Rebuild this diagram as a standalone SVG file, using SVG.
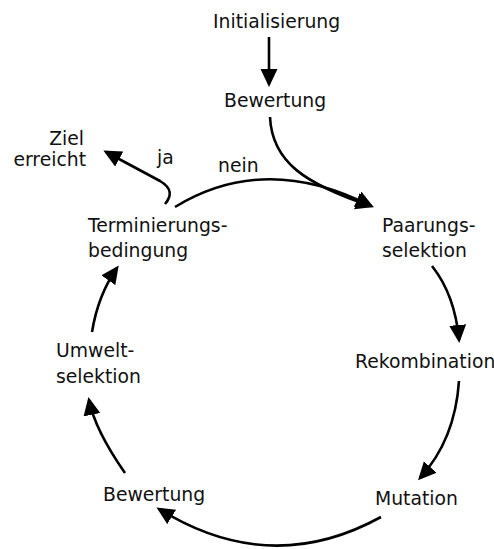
<svg xmlns="http://www.w3.org/2000/svg" width="494" height="549" viewBox="0 0 494 549">
<style>
text{font-family:"DejaVu Sans","Liberation Sans",sans-serif;font-size:18.8px;fill:#111}
.c{fill:none;stroke:#000;stroke-width:2.6}
</style>
<defs>
<marker id="ah" markerUnits="userSpaceOnUse" markerWidth="20" markerHeight="18" refX="15" refY="8.5" orient="auto">
<path d="M0,0 L18,8.5 L0,17 z" fill="#000"/>
</marker>
</defs>
<rect width="494" height="549" fill="#fff"/>
<g id="connectors">
<path class="c" d="M269,37 L269,84" marker-end="url(#ah)"/>
<path class="c" d="M270,117 C272,162 305,184 371,206" marker-end="url(#ah)"/>
<path class="c" d="M175,207 Q265,152 371,206" marker-end="url(#ah)"/>
<path class="c" d="M165,204 C172,196 172,188 160,181 L106,152" marker-end="url(#ah)"/>
<path class="c" d="M432,266 Q455,295 459,340" marker-end="url(#ah)"/>
<path class="c" d="M459,381 Q455,440 420,478" marker-end="url(#ah)"/>
<path class="c" d="M381,517 Q270,578 159,509" marker-end="url(#ah)"/>
<path class="c" d="M125,473 Q95,430 89,400" marker-end="url(#ah)"/>
<path class="c" d="M92,332 Q98,295 117,268" marker-end="url(#ah)"/>
<text x="157" y="164">ja</text>
<text x="218" y="172">nein</text>
</g>
<g id="init"><text x="213" y="28">Initialisierung</text></g>
<g id="bewertung1"><text x="224" y="107">Bewertung</text></g>
<g id="ziel"><text x="84" y="145" text-anchor="end">Ziel</text><text x="86" y="166" text-anchor="end">erreicht</text></g>
<g id="terminierung"><text x="88" y="232">Terminierungs-</text><text x="88" y="257">bedingung</text></g>
<g id="paarung"><text x="382" y="232">Paarungs-</text><text x="382" y="257">selektion</text></g>
<g id="rekombination"><text x="355" y="368">Rekombination</text></g>
<g id="mutation"><text x="375" y="505">Mutation</text></g>
<g id="bewertung2"><text x="103" y="501">Bewertung</text></g>
<g id="umwelt"><text x="56" y="357">Umwelt-</text><text x="56" y="383">selektion</text></g>
</svg>
